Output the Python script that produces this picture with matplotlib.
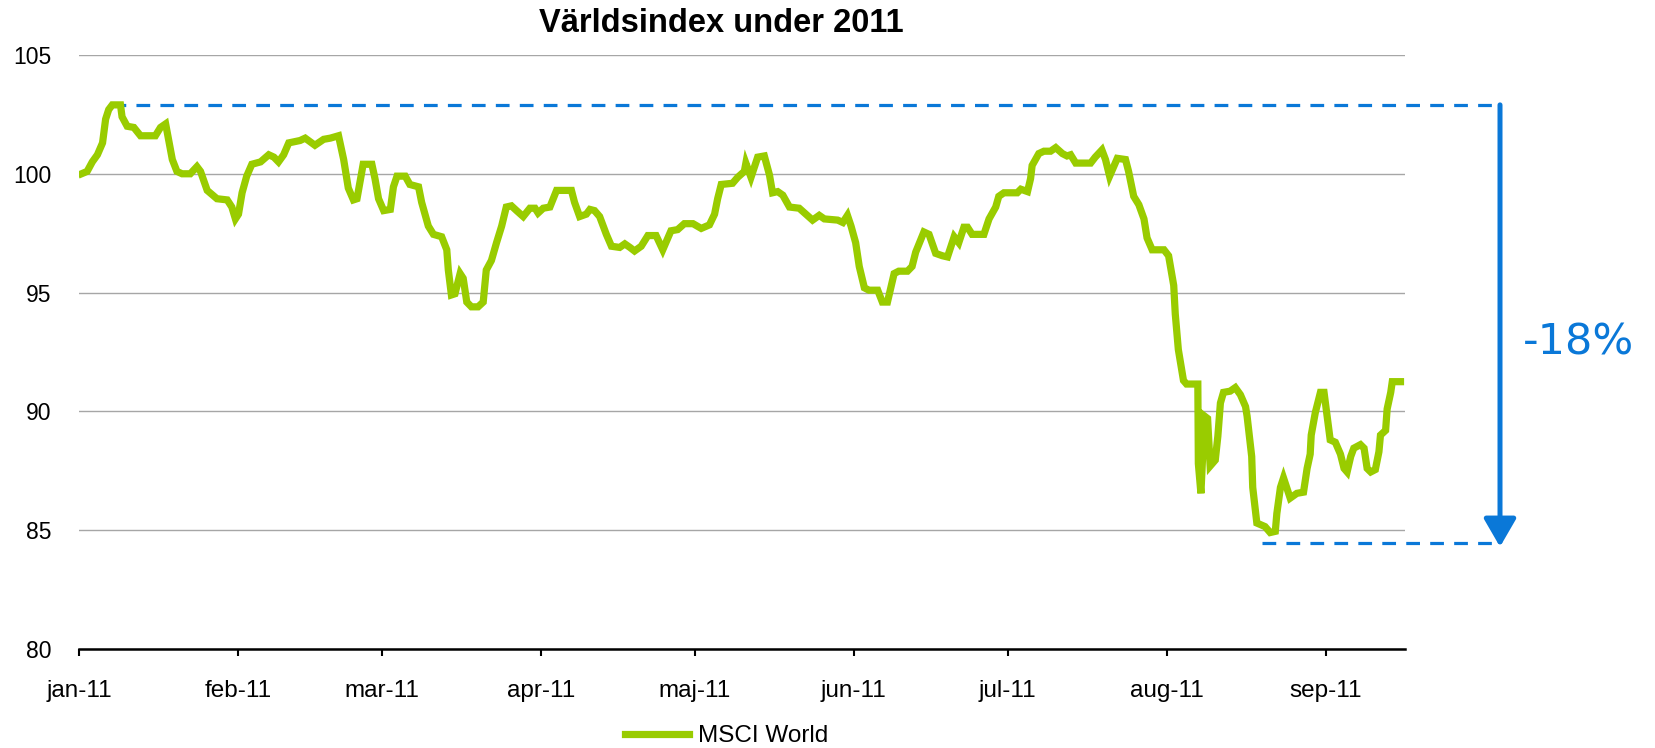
import matplotlib
matplotlib.use("Agg")
import matplotlib.pyplot as plt
import pandas as pd

# ---------------------------------------------------------------------------
# Data (MSCI World, rebased to 100 at start of 2011)
# day offsets are days since 2011-01-01
# ---------------------------------------------------------------------------
day_offsets = [
    0.5, 1.6, 2.6, 3.6, 4.6, 5.2, 5.8, 6.5, 8.1, 8.4, 9.4, 10.7, 12.0, 14.9,
    15.9, 16.9, 17.5, 18.2, 19.1, 20.1, 21.7, 23.0, 23.7, 25.0, 26.9, 28.9,
    29.8, 30.5, 31.1, 31.8, 32.7, 33.7, 35.4, 37.0, 38.0, 38.9, 39.9, 40.9,
    43.1, 44.1, 46.0, 47.7, 49.0, 50.6, 51.6, 52.5, 53.5, 54.2, 55.4, 57.1,
    57.7, 58.4, 59.4, 60.7, 61.3, 62.0, 63.6, 64.5, 66.2, 66.8, 68.1, 69.1,
    70.7, 71.7, 72.0, 72.6, 73.3, 74.3, 74.9, 75.6, 76.5, 77.8, 78.8, 79.4,
    80.4, 81.4, 82.4, 83.3, 84.3, 85.3, 86.6, 87.9, 88.9, 89.5, 90.5, 91.8,
    93.1, 96.0, 96.6, 97.6, 98.9, 99.6, 100.5, 101.5, 102.8, 103.8, 105.4,
    106.4, 107.4, 108.3, 109.6, 110.9, 112.5, 113.8, 115.4, 116.7, 118.0,
    119.7, 121.3, 122.9, 123.9, 124.5, 125.2, 127.4, 128.4, 129.7, 130.0,
    131.0, 132.3, 133.6, 134.6, 135.2, 136.2, 137.2, 138.5, 140.4, 141.7,
    143.0, 144.3, 145.3, 147.9, 148.9, 149.8, 150.5, 151.4, 152.1, 153.1,
    154.0, 155.7, 156.6, 157.6, 158.9, 159.8, 161.5, 162.4, 163.1, 164.7,
    165.7, 167.0, 168.3, 169.3, 170.6, 171.5, 172.5, 173.2, 174.1, 176.4,
    177.4, 178.7, 179.3, 180.3, 182.9, 183.6, 184.9, 185.5, 185.8, 187.1,
    188.1, 189.4, 190.4, 191.7, 192.6, 193.3, 194.3, 197.2, 198.1, 199.4,
    200.1, 200.9, 201.7, 202.4, 204.0, 204.6, 205.6, 206.6, 207.6, 208.2,
    209.2, 211.5, 212.4, 213.4, 213.7, 214.3, 215.3, 215.9, 218.1, 218.2,
    218.7, 219.4, 220.0, 220.5, 221.5, 222.0, 222.5, 223.1, 224.4, 225.4,
    226.4, 227.4, 227.7, 228.6, 228.8, 229.6, 231.2, 232.2, 233.2, 233.5,
    234.2, 234.8, 236.1, 237.4, 238.7, 239.4, 240.0, 240.2, 241.0, 242.0,
    242.7, 243.3, 243.9, 244.9, 245.9, 246.6, 247.2, 247.9, 248.5, 249.8,
    250.5, 251.1, 251.8, 252.7, 253.4, 253.7, 254.7, 255.0, 255.7, 256.0,
    257.6,
]
msci_world = [
    100.0, 100.1, 100.5, 100.8, 101.3, 102.3, 102.7, 102.9, 102.9, 102.4,
    102.0, 101.95, 101.6, 101.6, 101.95, 102.1, 101.4, 100.6, 100.1, 100.0,
    100.0, 100.3, 100.1, 99.3, 98.95, 98.9, 98.6, 98.1, 98.3, 99.2, 99.9,
    100.4, 100.5, 100.8, 100.7, 100.5, 100.8, 101.3, 101.4, 101.5, 101.2,
    101.45, 101.5, 101.6, 100.6, 99.4, 98.9, 98.95, 100.4, 100.4, 99.8,
    98.95, 98.45, 98.5, 99.45, 99.9, 99.9, 99.55, 99.45, 98.8, 97.8, 97.45,
    97.35, 96.8, 95.95, 94.9, 94.95, 95.8, 95.6, 94.6, 94.4, 94.4, 94.6,
    95.95, 96.35, 97.1, 97.8, 98.6, 98.65, 98.45, 98.2, 98.55, 98.55, 98.35,
    98.55, 98.6, 99.3, 99.3, 98.8, 98.2, 98.3, 98.5, 98.45, 98.2, 97.45,
    96.95, 96.9, 97.05, 96.9, 96.75, 96.95, 97.4, 97.4, 96.8, 97.6, 97.65,
    97.9, 97.9, 97.7, 97.85, 98.3, 98.95, 99.55, 99.6, 99.85, 100.1, 100.45,
    99.85, 100.7, 100.75, 99.95, 99.2, 99.25, 99.1, 98.6, 98.55, 98.3, 98.05,
    98.25, 98.1, 98.05, 97.95, 98.25, 97.8, 97.1, 96.1, 95.2, 95.1, 95.1,
    94.6, 94.6, 95.8, 95.9, 95.9, 96.1, 96.7, 97.55, 97.45, 96.65, 96.55,
    96.5, 97.35, 97.1, 97.75, 97.75, 97.45, 97.45, 98.1, 98.6, 99.05, 99.2,
    99.2, 99.35, 99.25, 99.8, 100.35, 100.85, 100.95, 100.95, 101.1, 100.85,
    100.75, 100.8, 100.45, 100.45, 100.7, 101.0, 100.6, 99.9, 100.3, 100.65,
    100.6, 100.1, 99.05, 98.7, 98.1, 97.3, 96.8, 96.8, 96.55, 95.3, 94.1,
    92.6, 91.3, 91.15, 91.15, 87.8, 86.55, 89.8, 89.7, 87.7, 87.95, 88.95,
    90.35, 90.8, 90.85, 91.0, 90.7, 90.2, 89.8, 88.1, 86.8, 85.3, 85.15,
    84.9, 84.95, 85.7, 86.8, 87.2, 86.35, 86.55, 86.6, 87.6, 88.2, 89.0,
    89.95, 90.8, 90.8, 89.8, 88.8, 88.7, 88.2, 87.6, 87.45, 88.1, 88.45,
    88.6, 88.45, 87.6, 87.45, 87.55, 88.3, 89.0, 89.2, 90.1, 90.8, 91.25,
    91.25,
]

month_starts = ["2011-01-01", "2011-02-01", "2011-03-01", "2011-04-01",
                "2011-05-01", "2011-06-01", "2011-07-01", "2011-08-01",
                "2011-09-01"]
month_labels = ["jan-11", "feb-11", "mar-11", "apr-11", "maj-11",
                "jun-11", "jul-11", "aug-11", "sep-11"]
y_ticks = [80, 85, 90, 95, 100, 105]

TITLE = "Världsindex under 2011"
SERIES_NAME = "MSCI World"
DRAWDOWN_LABEL = "-18%"

GREEN = "#99cc00"
BLUE = "#0a78d8"
GRIDC = "#a6a6a6"

plt.rcParams["font.family"] = ["Liberation Sans", "DejaVu Sans"]

dates = pd.Timestamp("2011-01-01") + pd.to_timedelta(day_offsets, unit="D")
series = pd.Series(msci_world, index=dates)

fig = plt.figure(figsize=(16.55, 7.48), dpi=100)
ax = fig.add_axes([0.0477, 0.1324, 0.8013, 0.7941])

ax.plot(series.index, series.values, color=GREEN, lw=5.2,
        solid_joinstyle="miter", zorder=3, label=SERIES_NAME)

ax.set_ylim(80, 105)
ax.set_yticks(y_ticks)
ax.set_xlim(pd.Timestamp("2011-01-01"), pd.Timestamp("2011-09-16 12:00"))
ax.set_xticks(pd.to_datetime(month_starts))
ax.set_xticklabels(month_labels)

ax.grid(True, axis="y", color=GRIDC, lw=1.0, zorder=0)
ax.set_axisbelow(True)
for side in ("top", "right", "left"):
    ax.spines[side].set_visible(False)
ax.spines["bottom"].set_color("black")
ax.spines["bottom"].set_linewidth(1.8)
ax.spines["bottom"].set_zorder(4)

ax.tick_params(axis="y", length=0, pad=20, labelsize=16.5, colors="black")
ax.tick_params(axis="x", length=5, width=1.5, direction="out", pad=17,
               labelsize=17.5, colors="black")

# drawdown annotation: peak / trough levels with the arrow to the right
peak_date, peak_val = series.idxmax(), series.max()
trough_date, trough_val = series.idxmin(), series.min()
arrow_date = pd.Timestamp("2011-10-05")

ax.plot([peak_date, arrow_date], [peak_val, peak_val], color=BLUE, lw=2.3,
        dashes=(4.3, 3.2), clip_on=False, zorder=2)
ax.plot([trough_date - pd.Timedelta(days=1.5), arrow_date],
        [trough_val - 0.45, trough_val - 0.45], color=BLUE, lw=2.3,
        dashes=(4.3, 3.2), clip_on=False, zorder=2)
ax.annotate("", xy=(arrow_date, trough_val - 0.6), xytext=(arrow_date, peak_val),
            annotation_clip=False,
            arrowprops=dict(arrowstyle="-|>,head_length=0.95,head_width=0.55",
                            mutation_scale=18, color=BLUE, lw=3.6,
                            shrinkA=0, shrinkB=0))
ax.text(1.0888, 0.516, DRAWDOWN_LABEL, transform=ax.transAxes,
        fontsize=31, color=BLUE, family="DejaVu Sans",
        ha="left", va="center")

fig.text(0.4356, 0.957, TITLE, fontsize=23.5, fontweight="bold",
         ha="center", va="baseline")

fig.legend(loc="center", bbox_to_anchor=(0.4393, 0.016), frameon=False,
           fontsize=17.5, handlelength=2.6, handletextpad=0.4)

fig.savefig("out.png", dpi=100)
